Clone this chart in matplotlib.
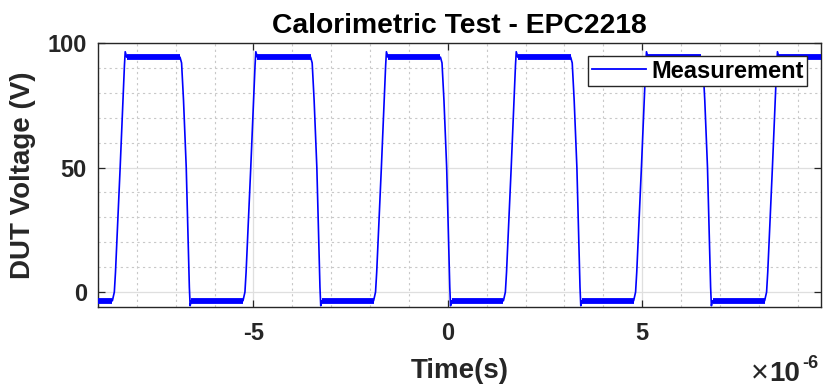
import numpy as np
import matplotlib.pyplot as plt
from matplotlib.ticker import FuncFormatter, MultipleLocator

plt.rcParams['font.family'] = ['Liberation Sans', 'DejaVu Sans']
plt.rcParams['axes.unicode_minus'] = False

# edge times (microseconds, 50% crossing)
rise_us = [-8.43, -5.07, -1.71, 1.63, 4.98, 8.35]
fall_us = [-6.73, -3.37, -0.03, 3.32, 6.68]
v_high = 94.3
v_low = -3.5
t_start, t_end = -9.0, 9.6

# shape of one edge around its crossing time (us, V)
rise_dt = [-0.20, -0.15, -0.12, 0.0, 0.11, 0.13, 0.17]
rise_v = [v_low, 0.0, 8.0, 50.0, 91.0, 96.5, v_high]
fall_dt = [-0.16, -0.12, -0.07, 0.0, 0.08, 0.10, 0.13]
fall_v = [v_high, 92.0, 77.0, 50.0, 2.0, -5.5, v_low]

# build the trace
edges = sorted([(t, 'r') for t in rise_us] + [(t, 'f') for t in fall_us])
t_pts = [t_start]
v_pts = [v_low]
for t0, kind in edges:
    dts, vs = (rise_dt, rise_v) if kind == 'r' else (fall_dt, fall_v)
    t_pts += [t0 + d for d in dts]
    v_pts += vs
t_pts.append(t_end)
v_pts.append(v_high)
t_s = np.array(t_pts) * 1e-6
v = np.array(v_pts)

fig = plt.figure(figsize=(8.23, 3.91), dpi=100)
ax = fig.add_axes([98/823, 1-307/391, (821-98)/823, (307-43)/391])

ax.plot(t_s, v, color='#0000ff', lw=1.2, label='Measurement', zorder=3)
# plateaus look like a thick noisy band in the measurement
for i in range(len(v) - 1):
    if v[i] == v[i+1]:
        ax.plot(t_s[i:i+2], v[i:i+2], color='#0000ff', lw=4.2,
                solid_capstyle='butt', zorder=3)

ax.set_xlim(t_start*1e-6, t_end*1e-6)
ax.set_ylim(-6, 100)
ax.set_xticks([-5e-6, 0, 5e-6])
ax.set_yticks([0, 50, 100])
ax.xaxis.set_minor_locator(MultipleLocator(1e-6))
ax.yaxis.set_minor_locator(MultipleLocator(10))
ax.xaxis.set_major_formatter(FuncFormatter(lambda x, p: '%g' % round(x*1e6, 6)))

ax.grid(True, which='major', color='#dfdfdf', lw=0.9, ls='-')
ax.grid(True, which='minor', color='#c8c8c8', lw=0.8, ls=(0, (2, 3)))
ax.set_axisbelow(True)

for s in ax.spines.values():
    s.set_color('#262626')
    s.set_linewidth(1.0)
ax.tick_params(which='major', direction='in', top=True, right=True, length=5,
               width=0.9, color='#262626', labelsize=17, labelcolor='#262626')
ax.tick_params(which='minor', length=0)
ax.tick_params(axis='x', pad=11)
ax.tick_params(axis='y', pad=8)
for lab in ax.get_xticklabels() + ax.get_yticklabels():
    lab.set_fontweight('bold')

ax.set_title('Calorimetric Test - EPC2218', fontsize=20.3, fontweight='bold', pad=7)
ax.set_xlabel('Time(s)', fontsize=20, fontweight='bold', color='#262626', labelpad=9)
ax.set_ylabel('DUT Voltage (V)', fontsize=20, fontweight='bold', color='#262626', labelpad=8)

leg = ax.legend(loc='upper right', bbox_to_anchor=((807-98)/723, (307-56)/264),
                borderaxespad=0, fancybox=False, framealpha=1, edgecolor='#262626',
                prop={'size': 17, 'weight': 'bold'}, handlelength=2.3,
                handletextpad=0.2, borderpad=0.15)
leg.get_frame().set_linewidth(1.0)
leg.get_lines()[0].set_linewidth(1.3)
leg.set_zorder(5)

# exponent label as MATLAB draws it
fig.text(751/823, 9/391, '\u00d7', fontsize=22, color='#262626')
fig.text(769/823, 10/391, '10', fontsize=20, fontweight='bold', color='#262626')
fig.text(802/823, 23/391, '-6', fontsize=13, fontweight='bold', color='#262626')

fig.savefig('out.png', dpi=100)
